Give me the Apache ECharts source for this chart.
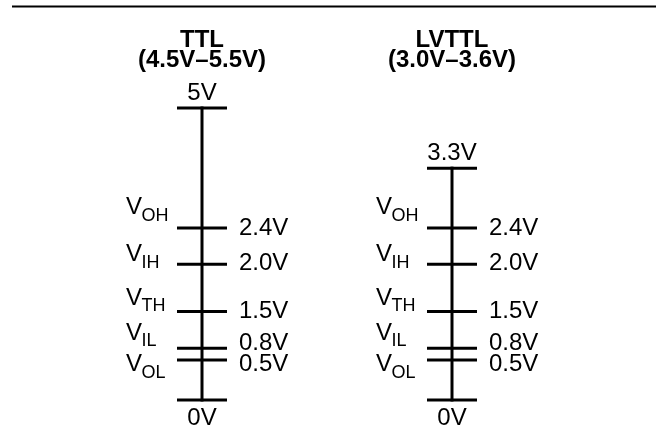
<!DOCTYPE html>
<html>
<head>
<meta charset="utf-8">
<script src="https://cdn.jsdelivr.net/npm/echarts@6/dist/echarts.min.js"></script>
<style>
  html, body { margin: 0; padding: 0; background: #fff; }
  #chart { width: 658px; height: 443px; }
</style>
</head>
<body>
<div id="chart"></div>
<script>
// ---- data ----
const families = ['TTL', 'LVTTL'];
const familyRanges = ['(4.5V–5.5V)', '(3.0V–3.6V)'];
const supplyLabels = ['5V', '3.3V'];
// schematic (not-to-scale) height of each level as drawn, 0V = 0, 5V = 100
const supplyLevels = [100, 79.4];
const groundLabel = '0V';
const thresholdNames = ['OH', 'IH', 'TH', 'IL', 'OL'];
const thresholdLabels = ['2.4V', '2.0V', '1.5V', '0.8V', '0.5V'];
const thresholdLevels = [58.9, 46.5, 30.3, 17.7, 13.7];

// ---- layout (label nudges, px) ----
const leftBaselineNudge = [-12, -1, -5, -7, 13];
const rightBaselineNudge = [8.5, 8, 8.5, 3.5, 13];
const FONT = '"Liberation Sans", Arial, Helvetica, sans-serif';
const MAIN = 24, SUB = 18;

function txt(text, x, baseline, size, align, weight) {
  return {
    type: 'text',
    x: x,
    y: baseline - 0.35 * size,
    style: {
      text: text,
      fill: '#000',
      font: (weight || 'normal') + ' ' + size + 'px ' + FONT,
      align: align,
      verticalAlign: 'middle'
    }
  };
}

function renderItem(params, api) {
  const i = params.dataIndex;
  const base = api.coord([i, 0]);
  const x = base[0], y0 = base[1];
  const yTop = api.coord([i, supplyLevels[i]])[1];
  const lineStyle = { stroke: '#000', lineWidth: 3 };
  const tick = (y) => ({ type: 'line', shape: { x1: x - 25, y1: y, x2: x + 25, y2: y }, style: lineStyle });
  const children = [
    { type: 'line', shape: { x1: x, y1: y0 + 1.5, x2: x, y2: yTop - 1.5 }, style: lineStyle },
    tick(y0), tick(yTop),
    txt(supplyLabels[i], x, yTop - 6, MAIN, 'center'),
    txt(groundLabel, x, y0 + 27, MAIN, 'center')
  ];
  thresholdLevels.forEach((lv, k) => {
    const y = api.coord([i, lv])[1];
    children.push(tick(y));
    children.push(txt(thresholdLabels[k], x + 37, y + rightBaselineNudge[k], MAIN, 'left'));
    const vb = y + leftBaselineNudge[k];
    children.push(txt('V', x - 76, vb, MAIN, 'left'));
    children.push(txt(thresholdNames[k], x - 60.5, vb + 6, SUB, 'left'));
  });
  return { type: 'group', children: children };
}

const chart = echarts.init(document.getElementById('chart'), null, { renderer: 'canvas' });
chart.setOption({
  animation: false,
  backgroundColor: '#fff',
  grid: { left: 77, width: 500, top: 108, height: 292 },
  xAxis: {
    type: 'category',
    data: families,
    position: 'top',
    axisLine: { show: false },
    axisTick: { show: false },
    splitLine: { show: false },
    axisLabel: {
      interval: 0,
      margin: 38,
      color: '#000',
      fontFamily: FONT,
      fontWeight: 'bold',
      fontSize: 24,
      lineHeight: 20,
      formatter: (v, idx) => v + '\n' + familyRanges[idx]
    }
  },
  yAxis: { type: 'value', min: 0, max: 100, show: false },
  graphic: [{
    type: 'line',
    shape: { x1: 12, y1: 6.5, x2: 656, y2: 6.5 },
    style: { stroke: '#000', lineWidth: 2 }
  }],
  series: [{
    type: 'custom',
    renderItem: renderItem,
    clip: false,
    data: families.map((f, i) => [i])
  }]
});
</script>
</body>
</html>
